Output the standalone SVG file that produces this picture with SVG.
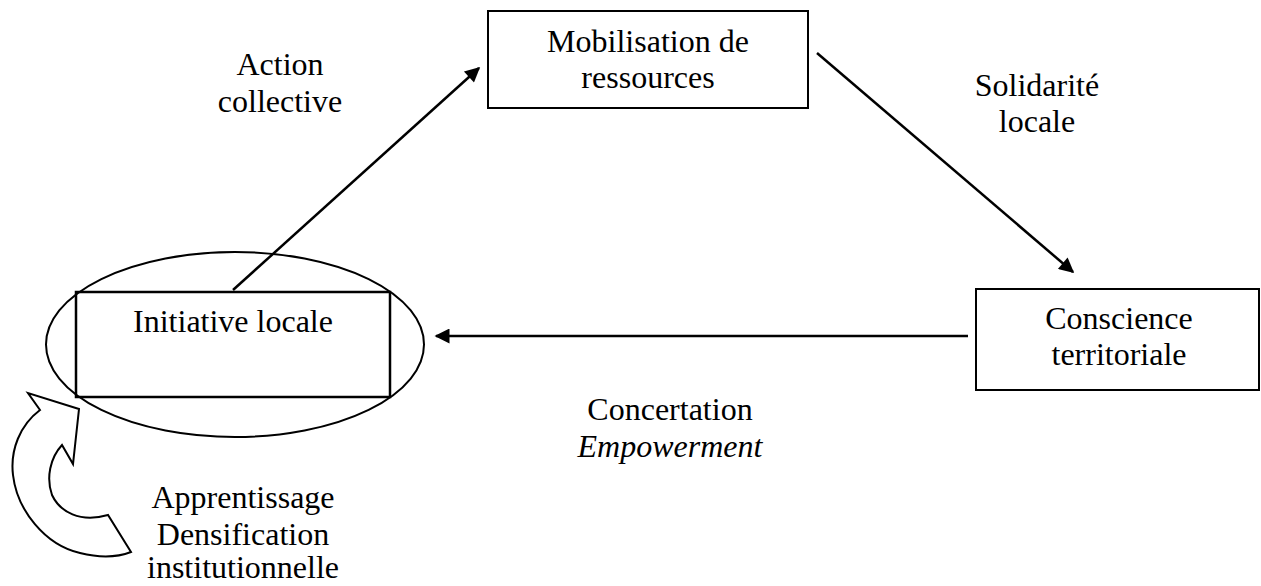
<svg xmlns="http://www.w3.org/2000/svg" width="1261" height="586" viewBox="0 0 1261 586">
<style>
text{font-family:"Liberation Serif","Times New Roman",serif;font-size:32px;fill:#000;text-anchor:middle}
.box{fill:#fff;stroke:#000;stroke-width:2}
.ln{stroke:#000;stroke-width:2.5;fill:none}
</style>
<defs>
<marker id="ah" viewBox="0 0 10 10" refX="9" refY="5" markerWidth="19" markerHeight="15" markerUnits="userSpaceOnUse" orient="auto">
<path d="M0,0 L10,5 L0,10 Z" fill="#000"/>
</marker>
</defs>
<rect width="1261" height="586" fill="#fff"/>
<g id="initiative">
<ellipse cx="235" cy="344.5" rx="189" ry="92.5" fill="none" stroke="#000" stroke-width="2"/>
<rect x="76" y="292" width="314" height="105" fill="none" stroke="#000" stroke-width="2.5"/>
<text x="233" y="332">Initiative locale</text>
</g>
<g id="mobilisation">
<rect class="box" x="488" y="11" width="320" height="97"/>
<text x="648" y="52">Mobilisation de</text>
<text x="648" y="88">ressources</text>
</g>
<g id="conscience">
<rect class="box" x="976" y="289" width="283" height="101"/>
<text x="1119" y="329">Conscience</text>
<text x="1119" y="365">territoriale</text>
</g>
<g id="boucle">
<path d="M40,410 L28,393 L79,409 L73,464 L62,445 C50,458 46,478 52,495 C60,512 80,523 108,515 L131,552 C118,557 100,558 80,553 C45,545 17,510 13,475 C10,450 20,425 40,410 Z" fill="#fff" stroke="#000" stroke-width="2"/>
</g>
<g id="connectors">
<line class="ln" x1="233" y1="290" x2="479" y2="68" marker-end="url(#ah)"/>
<line class="ln" x1="817" y1="53" x2="1073" y2="272" marker-end="url(#ah)"/>
<line class="ln" x1="968" y1="336" x2="436" y2="336" marker-end="url(#ah)"/>
</g>
<g id="labels">
<text x="280" y="75">Action</text>
<text x="280" y="112">collective</text>
<text x="1037" y="96">Solidarité</text>
<text x="1037" y="132">locale</text>
<text x="670" y="420">Concertation</text>
<text x="670" y="457" font-style="italic">Empowerment</text>
<text x="243" y="508">Apprentissage</text>
<text x="243" y="545">Densification</text>
<text x="243" y="578">institutionnelle</text>
</g>
</svg>
